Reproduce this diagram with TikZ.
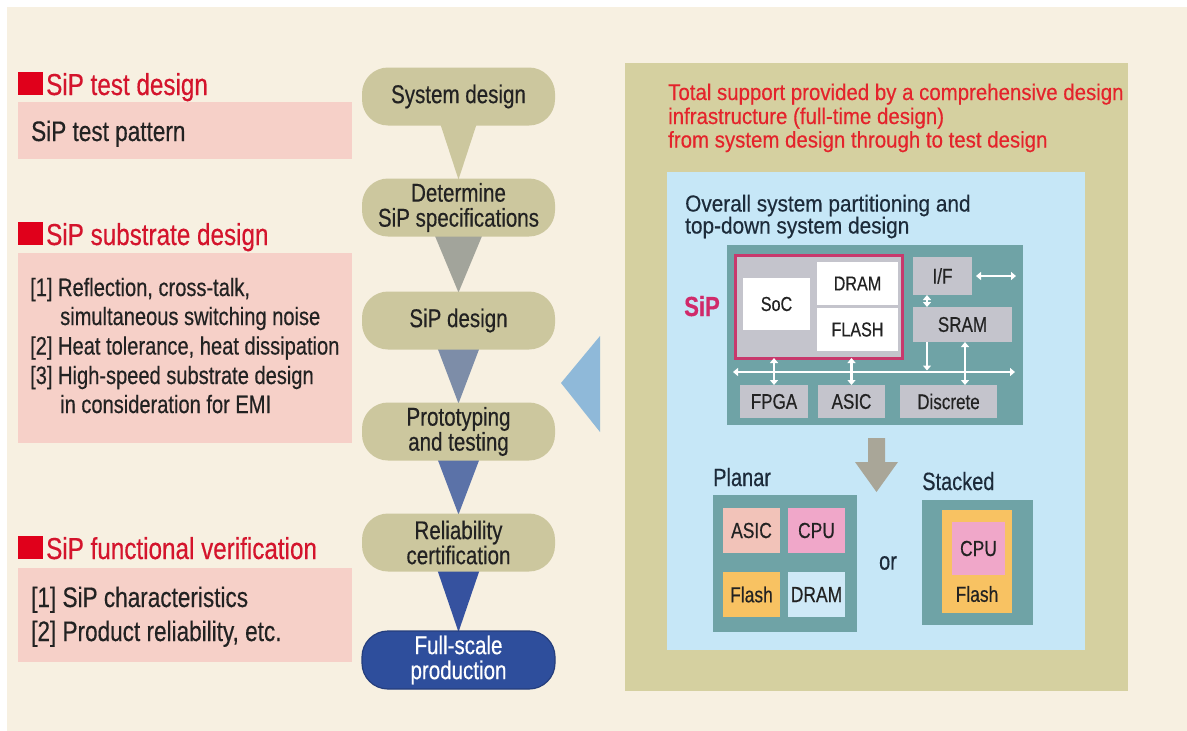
\documentclass[tikz,border=0pt]{standalone}
\usepackage{fontspec}
\setmainfont{Liberation Sans}[FakeStretch=0.8, FakeBold=0.4]
\newfontfamily\panelfont{Liberation Sans}[FakeStretch=0.9, FakeBold=0.4]
\usetikzlibrary{arrows.meta,calc}

\pgfdeclarelayer{canvas}
\pgfdeclarelayer{flow}
\pgfsetlayers{canvas,flow,main}

\definecolor{cream}{HTML}{F7F0E1}
\definecolor{pinkbg}{HTML}{F6D0C8}
\definecolor{headred}{HTML}{D4142C}
\definecolor{sqred}{HTML}{E0001B}
\definecolor{pillolive}{HTML}{CCC79E}
\definecolor{panelolive}{HTML}{D5D0A0}
\definecolor{skyblue}{HTML}{C6E7F7}
\definecolor{tealbg}{HTML}{6FA3A6}
\definecolor{chipgray}{HTML}{C4C4CC}
\definecolor{sipline}{HTML}{C8396C}
\definecolor{siplabel}{HTML}{D02A6A}
\definecolor{arrowgray}{HTML}{A9A698}
\definecolor{panelred}{HTML}{E4232B}
\definecolor{inktext}{HTML}{222222}
\definecolor{navytext}{HTML}{1C2B3A}
\definecolor{prodblue}{HTML}{2E4E9C}
\definecolor{markblue}{HTML}{8FB9D9}
\definecolor{triB}{HTML}{A2A49B}
\definecolor{triC}{HTML}{7D8DA8}
\definecolor{triD}{HTML}{5B72A8}
\definecolor{triE}{HTML}{36529F}
\definecolor{asicpink}{HTML}{F2C3B9}
\definecolor{cpupink}{HTML}{F0A7C9}
\definecolor{flashorange}{HTML}{F8C262}
\definecolor{drambl}{HTML}{CFE9F7}

\tikzset{
  area/.style={inner sep=0pt, outer sep=0pt, draw=none},
  sz/.style 2 args={minimum width=#1pt, minimum height=#2pt},
  lefthead/.style={anchor=base west, inner sep=0pt, text=headred,
    font=\fontsize{30.3}{31}\selectfont},
  leftitem/.style={anchor=base west, inner sep=0pt, text=inktext,
    font=\fontsize{28.2}{29}\selectfont},
  leftsub/.style={anchor=base west, inner sep=0pt, text=inktext,
    font=\fontsize{25.1}{26}\selectfont},
  pinkpanel/.style={area, fill=pinkbg},
  stagepill/.style={area, sz={193}{58}, rounded corners=26pt, fill=pillolive,
    text=inktext, align=center, font=\fontsize{25.7}{25}\selectfont},
  panelnote/.style={anchor=base west, inner sep=0pt, text=panelred,
    font=\panelfont\fontsize{22.7}{23}\selectfont},
  panelhead/.style={anchor=base west, inner sep=0pt, text=navytext,
    font=\panelfont\fontsize{23.1}{23}\selectfont},
  sublabel/.style={anchor=base west, inner sep=0pt, text=navytext,
    font=\fontsize{25}{25}\selectfont},
  chipwhite/.style={area, fill=white, text=inktext, font=\fontsize{20.2}{21}\selectfont},
  chipgrey/.style={area, fill=chipgray, text=inktext, font=\fontsize{21.3}{22}\selectfont},
  chip/.style={area, text=inktext, font=\fontsize{21.8}{22}\selectfont},
  chiptext/.style={inner sep=0pt, text=inktext, font=\fontsize{21.8}{22}\selectfont},
  siptag/.style={anchor=base west, inner sep=0pt, text=siplabel,
    font=\bfseries\fontsize{27.6}{28}\selectfont},
  busarrow/.style={draw=white, line width=2.2pt,
    {Triangle[width=8pt,length=5pt]}-{Triangle[width=8pt,length=5pt]}},
  busdown/.style={draw=white, line width=2.2pt, -{Triangle[width=8pt,length=5pt]}}
}

\begin{document}
\begin{tikzpicture}[x=1pt,y=-1pt]
\useasboundingbox (0,0) rectangle (1187,731);
\begin{pgfonlayer}{canvas}
  \fill[white] (0,0) rectangle (1187,731);
  \fill[cream] (7,7) rectangle (1187,731);
\end{pgfonlayer}

% ---- left column: design tasks ----
\fill[sqred] (18,72) rectangle (43,95);
\node[lefthead] (h1) at (46,95) {SiP test design};
\node[pinkpanel, sz={334}{57}] (b1) at (185,130.5) {};
\node[leftitem] (b1l1) at (31,141) {SiP test pattern};

\fill[sqred] (18,222) rectangle (43,245);
\node[lefthead] (h2) at (46,245) {SiP substrate design};
\node[pinkpanel, sz={334}{190}] (b2) at (185,348) {};
\node[leftsub] (b2l1) at (30,296) {[1] Reflection, cross-talk,};
\node[leftsub] (b2l2) at (60,325) {simultaneous switching noise};
\node[leftsub] (b2l3) at (30,354.5) {[2] Heat tolerance, heat dissipation};
\node[leftsub] (b2l4) at (30,384) {[3] High-speed substrate design};
\node[leftsub] (b2l5) at (60,413) {in consideration for EMI};

\fill[sqred] (18,536) rectangle (43,559);
\node[lefthead] (h3) at (46,559) {SiP functional verification};
\node[pinkpanel, sz={334}{94}] (b3) at (185,615) {};
\node[leftitem] (b3l1) at (31,607) {[1] SiP characteristics};
\node[leftitem] (b3l2) at (31,641) {[2] Product reliability, etc.};

% ---- centre: process flow ----
\node[stagepill] (s1) at (458.5,96.5) {System design};
\node[stagepill] (s2) at (458.5,207.5) {Determine\\SiP specifications};
\node[stagepill] (s3) at (458.5,320.5) {SiP design};
\node[stagepill] (s4) at (458.5,431.5) {Prototyping\\and testing};
\node[stagepill] (s5) at (458.5,542.5) {Reliability\\certification};
\node[stagepill, fill=prodblue, draw=prodblue!80!black, line width=1.2pt,
      text=white] (s6) at (458.5,660) {Full-scale\\production};

\begin{pgfonlayer}{flow}
  \fill[pillolive] ($(s1.south)+(-19,-4)$) -- ($(s1.south)+(19,-4)$) -- ($(s2.north)+(0,1)$) -- cycle;
  \fill[triB] ($(s2.south)+(-25,-4)$) -- ($(s2.south)+(25,-4)$) -- ($(s3.north)+(0,1)$) -- cycle;
  \fill[triC] ($(s3.south)+(-22,-4)$) -- ($(s3.south)+(22,-4)$) -- ($(s4.north)+(0,1)$) -- cycle;
  \fill[triD] ($(s4.south)+(-22,-4)$) -- ($(s4.south)+(22,-4)$) -- ($(s5.north)+(0,1)$) -- cycle;
  \fill[triE] ($(s5.south)+(-22,-4)$) -- ($(s5.south)+(22,-4)$) -- ($(s6.north)+(0,1)$) -- cycle;
\end{pgfonlayer}

% pointer towards the flow
\fill[markblue] (561,383) -- (600,336) -- (600,432) -- cycle;

% ---- right panel: design infrastructure ----
\node[area, fill=panelolive, sz={503}{628}] (outer) at (876.5,377) {};
\node[panelnote] (n1) at (668,100) {Total support provided by a comprehensive design};
\node[panelnote] (n2) at (668,124) {infrastructure (full-time design)};
\node[panelnote] (n3) at (668,147.5) {from system design through to test design};

\node[area, fill=skyblue, sz={418}{478}] (inner) at (876,411) {};
\node[panelhead] (o1) at (685,211.5) {Overall system partitioning and};
\node[panelhead] (o2) at (685,233.5) {top-down system design};

% system block
\node[area, fill=tealbg, sz={296}{180}] (sipblock) at (875,335) {};
\node[area, fill=chipgray, draw=sipline, line width=3pt, sz={167}{103}] (sipbox) at (818.5,306.5) {};
\node[chipwhite, sz={67}{52}] (soc) at (776.5,304) {SoC};
\node[chipwhite, sz={81}{43}] (dram) at (857.5,283.5) {DRAM};
\node[chipwhite, sz={81}{43}] (flash) at (857.5,329.5) {FLASH};
\node[chipgrey, sz={59}{38}] (iface) at (942.5,276) {I/F};
\node[chipgrey, sz={99}{35}] (sram) at (962.5,324.5) {SRAM};
\node[chipgrey, sz={68}{33}] (fpga) at (774,401.5) {FPGA};
\node[chipgrey, sz={67}{33}] (asic) at (851.5,401.5) {ASIC};
\node[chipgrey, sz={97}{33}] (discrete) at (948.5,401.5) {Discrete};
\node[siptag] (siptag) at (684,316) {SiP};

\coordinate (busw) at (733,372);
\coordinate (buse) at (1015,372);
\coordinate (ifx) at (927,0);
\coordinate (srx) at (965,0);
\coordinate (ext) at (1016,276);
\draw[busarrow] (busw) -- (buse);
\draw[busarrow] (sipbox.south -| fpga.north) -- (fpga.north);
\draw[busarrow] (sipbox.south -| asic.north) -- (asic.north);
\draw[busarrow] (iface.south -| ifx) -- (sram.north -| ifx);
\draw[busdown, shorten >=1.5pt] (sram.south -| ifx) -- (busw -| ifx);
\draw[busarrow] (discrete.north -| srx) -- (sram.south -| srx);
\draw[busarrow, shorten <=4pt] (iface.east) -- (ext);

% implementation choice
\fill[arrowgray] (868,438) -- (885,438) -- (885,462) -- (898,462) -- (876.5,492)
  -- (855,462) -- (868,462) -- cycle;

\node[sublabel] (planarlbl) at (713,486) {Planar};
\node[area, fill=tealbg, sz={144}{137}] (planar) at (785,563.5) {};
\node[chip, fill=asicpink, sz={57}{45}] (pasic) at (751.5,530.5) {ASIC};
\node[chip, fill=cpupink, sz={57}{45}] (pcpu) at (816.5,530.5) {CPU};
\node[chip, fill=flashorange, sz={57}{45}] (pflash) at (751.5,594.5) {Flash};
\node[chip, fill=drambl, sz={57}{45}] (pdram) at (816.5,594.5) {DRAM};

\node[chiptext, font=\fontsize{25}{25}\selectfont, text=navytext] (ortxt) at (888,563) {or};

\node[sublabel] (stackedlbl) at (922,490) {Stacked};
\node[area, fill=tealbg, sz={111}{125}] (stacked) at (977.5,562.5) {};
\node[area, fill=flashorange, sz={70}{103}] (sflash) at (977,561.5) {};
\node[chip, fill=cpupink, sz={53}{53}] (scpu) at (978.5,548.5) {CPU};
\node[chiptext] (sflashlbl) at (977,594) {Flash};
\end{tikzpicture}
\end{document}
